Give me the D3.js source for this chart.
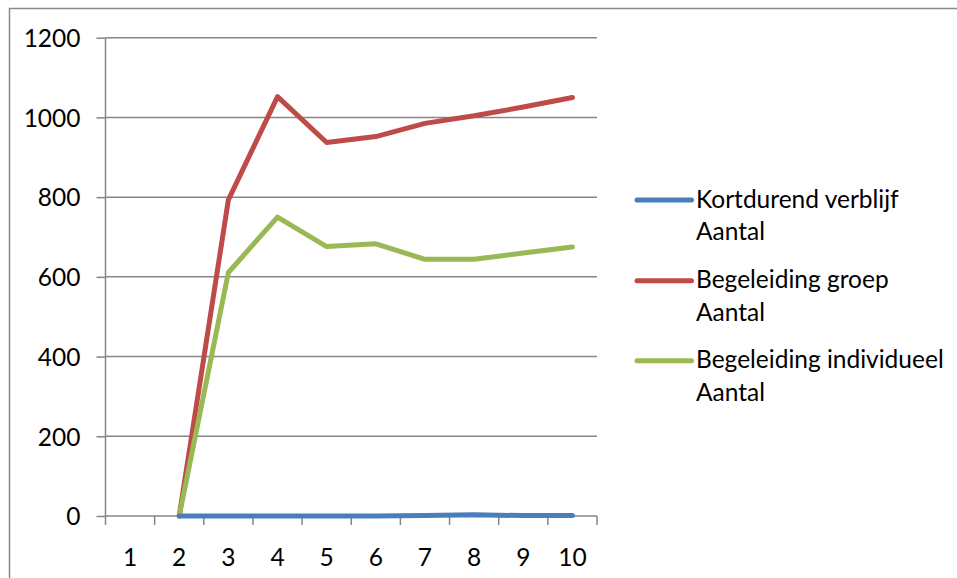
<!DOCTYPE html>
<html>
<head>
<meta charset="utf-8">
<script src="https://cdn.jsdelivr.net/npm/d3@7"></script>
<style>
  html, body { margin: 0; padding: 0; background: #fff; }
  svg { display: block; }
  text { font-family: Lato, "Open Sans", sans-serif; fill: #000; }
</style>
</head>
<body>
<svg id="chart" width="957" height="578"></svg>
<script>
const categories = ["1", "2", "3", "4", "5", "6", "7", "8", "9", "10"];
const yTicks = [0, 200, 400, 600, 800, 1000, 1200];
const seriesNames = [
  ["Kortdurend verblijf", "Aantal"],
  ["Begeleiding groep", "Aantal"],
  ["Begeleiding individueel", "Aantal"]
];
const kortdurend = [null, 0, 0, 0, 0, 0, 1, 3, 1, 1];
const groep = [null, 0, 793, 1052, 937, 952, 985, 1004, 1026, 1050];
const individueel = [null, 0, 611, 750, 676, 683, 644, 644, 660, 675];
const colors = ["#4A7EBB", "#BE4B48", "#98B954"];

const svg = d3.select("#chart");
const plot = { left: 105.5, right: 597, top: 37.7, bottom: 516 };

const x = d3.scaleBand().domain(categories).range([plot.left, plot.right]);
const y = d3.scaleLinear().domain([0, 1200]).range([plot.bottom, plot.top]);

// chart area border (extends beyond view right/bottom)
svg.append("rect").attr("x", 9.5).attr("y", 8.5).attr("width", 1200).attr("height", 1200)
  .attr("fill", "none").attr("stroke", "#888").attr("stroke-width", 1.5);

// gridlines
svg.append("g").selectAll("line").data(yTicks.filter(d => d > 0)).join("line")
  .attr("x1", plot.left).attr("x2", plot.right)
  .attr("y1", d => y(d)).attr("y2", d => y(d))
  .attr("stroke", "#868686").attr("stroke-width", 1.5);

// y axis
const yAxis = svg.append("g").attr("transform", `translate(${plot.left},0)`)
  .call(d3.axisLeft(y).tickValues(yTicks).tickSize(9).tickPadding(16).tickFormat(d3.format("d")));
yAxis.select(".domain").attr("stroke", "#868686").attr("stroke-width", 1.5).attr("d", `M0,${plot.top}V${plot.bottom}`);
yAxis.selectAll(".tick line").attr("stroke", "#868686").attr("stroke-width", 1.5);
yAxis.selectAll(".tick text").style("font-size", "24.5px").attr("fill", "#000").attr("dy", "0.36em");

// x axis
const xAxis = svg.append("g").attr("transform", `translate(0,${plot.bottom})`)
  .call(d3.axisBottom(x).tickSize(0).tickPadding(0));
xAxis.select(".domain").attr("stroke", "#868686").attr("stroke-width", 1.5).attr("d", `M${plot.left},0H${plot.right}`);
xAxis.selectAll(".tick text").style("font-size", "24.5px").attr("fill", "#000").attr("y", 50).attr("dy", 0);
// x tick marks at band boundaries
const bounds = categories.map(c => x(c)).concat([plot.right]);
xAxis.append("g").selectAll("line").data(bounds).join("line")
  .attr("x1", d => d).attr("x2", d => d).attr("y1", 0).attr("y2", 9)
  .attr("stroke", "#868686").attr("stroke-width", 1.5);

// lines
const allSeries = [kortdurend, groep, individueel];
const line = d3.line()
  .defined(d => d.v !== null)
  .x(d => x(d.c) + x.bandwidth() / 2)
  .y(d => y(d.v));
// draw order: red, green, blue on top
[1, 2, 0].forEach(i => {
  const data = categories.map((c, j) => ({ c, v: allSeries[i][j] }));
  svg.append("path").datum(data)
    .attr("fill", "none").attr("stroke", colors[i]).attr("stroke-width", 5)
    .attr("stroke-linejoin", "round").attr("stroke-linecap", "round")
    .attr("d", line);
});

// legend
const legendY = [200, 280.7, 360.7];
const lg = svg.append("g");
seriesNames.forEach((name, i) => {
  lg.append("line").attr("x1", 637).attr("x2", 691.5).attr("y1", legendY[i]).attr("y2", legendY[i])
    .attr("stroke", colors[i]).attr("stroke-width", 5).attr("stroke-linecap", "round");
  lg.append("text").attr("x", 696).attr("y", legendY[i] + 7.5).style("font-size", "24.5px").text(name[0]);
  lg.append("text").attr("x", 696).attr("y", legendY[i] + 40).style("font-size", "24.5px").text(name[1]);
});
</script>
</body>
</html>
